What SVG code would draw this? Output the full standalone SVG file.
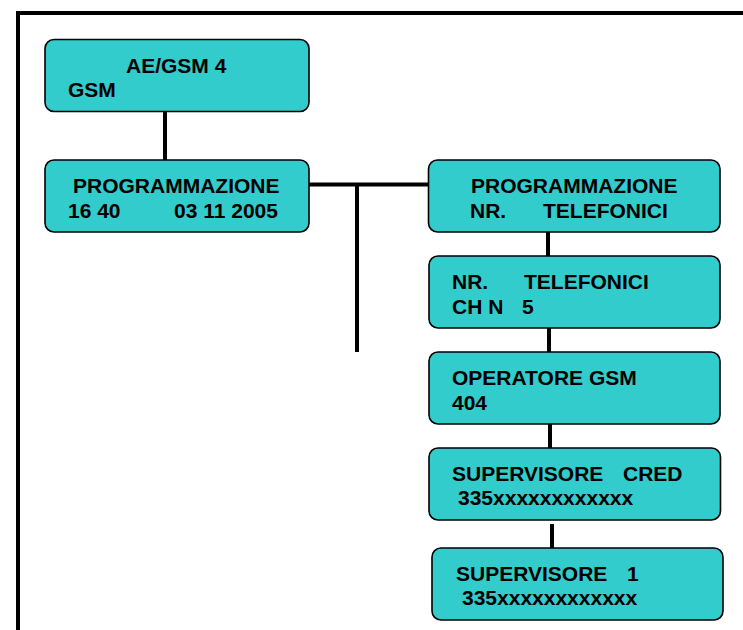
<svg xmlns="http://www.w3.org/2000/svg" width="743" height="630" viewBox="0 0 743 630">
<style>
.box{fill:#33cccc;stroke:#000;stroke-width:1.6}
.t{font-family:"Liberation Sans",Arial,sans-serif;font-weight:bold;font-size:21px;fill:#000}
.c{stroke:#000;stroke-width:4;fill:none}
</style>
<rect width="743" height="630" fill="#fff"/>
<g id="frame"><path class="c" d="M18,630 V13 H743"/></g>
<g id="connectors">
<line class="c" x1="165" y1="111" x2="165" y2="160"/>
<line class="c" x1="309" y1="184.5" x2="428" y2="184.5"/>
<line class="c" x1="357" y1="184.5" x2="357" y2="352"/>
<line class="c" x1="548" y1="232" x2="548" y2="257"/>
<line class="c" x1="549" y1="328" x2="549" y2="353"/>
<line class="c" x1="550" y1="424" x2="550" y2="448"/>
<line class="c" x1="552" y1="524" x2="552" y2="548"/>
</g>
<g id="n1"><rect class="box" x="45" y="39.5" width="264" height="72" rx="9"/>
<text class="t" x="126" y="73">AE/GSM 4</text><text class="t" x="68" y="97">GSM</text></g>
<g id="n2"><rect class="box" x="45" y="160" width="264" height="72" rx="9"/>
<text class="t" x="73" y="193">PROGRAMMAZIONE</text><text class="t" x="68" y="218">16 40</text><text class="t" x="174" y="218">03 11 2005</text></g>
<g id="n3"><rect class="box" x="428.5" y="160" width="291.5" height="72" rx="9"/>
<text class="t" x="471" y="193">PROGRAMMAZIONE</text><text class="t" x="470" y="218">NR.</text><text class="t" x="543" y="218">TELEFONICI</text></g>
<g id="n4"><rect class="box" x="429" y="256" width="291" height="72" rx="9"/>
<text class="t" x="452" y="289">NR.</text><text class="t" x="524" y="289">TELEFONICI</text><text class="t" x="452" y="314">CH N</text><text class="t" x="522" y="314">5</text></g>
<g id="n5"><rect class="box" x="429" y="352" width="291" height="72" rx="9"/>
<text class="t" x="452" y="385">OPERATORE GSM</text><text class="t" x="452" y="410">404</text></g>
<g id="n6"><rect class="box" x="429" y="448" width="291.5" height="72" rx="9"/>
<text class="t" x="452" y="481">SUPERVISORE</text><text class="t" x="623" y="481">CRED</text><text class="t" x="458" y="505">335xxxxxxxxxxxx</text></g>
<g id="n7"><rect class="box" x="432" y="548" width="291" height="72" rx="9"/>
<text class="t" x="456" y="581">SUPERVISORE</text><text class="t" x="627" y="581">1</text><text class="t" x="462" y="605">335xxxxxxxxxxxx</text></g>
</svg>
